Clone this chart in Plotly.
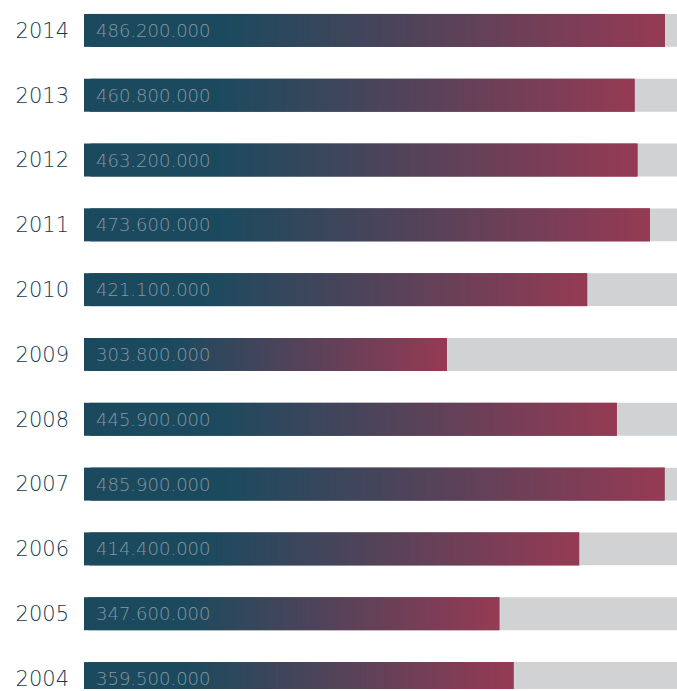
import plotly.graph_objects as go

years = ["2014", "2013", "2012", "2011", "2010", "2009", "2008", "2007", "2006", "2005", "2004"]
values = [486200000, 460800000, 463200000, 473600000, 421100000, 303800000,
          445900000, 485900000, 414400000, 347600000, 359500000]
scale_max = 500000000

TEAL = (27, 74, 94)
CRIMSON = (150, 58, 84)
GREY = "#d1d2d4"
N_SEG = 90
T0 = 0.24

PX_PER_ROW = 65.0
BAR_PX = 33.0
BAR_W = BAR_PX / PX_PER_ROW
Y_TOP = -30.5 / PX_PER_ROW
Y_BOTTOM = Y_TOP + 691 / PX_PER_ROW


def grad_color(t):
    if t <= T0:
        c = TEAL
    else:
        f = (t - T0) / (1 - T0)
        c = tuple(TEAL[k] + (CRIMSON[k] - TEAL[k]) * f for k in range(3))
    return "rgb(%d,%d,%d)" % tuple(round(x) for x in c)


fig = go.Figure()

# background full-scale bars
fig.add_trace(go.Bar(
    y=years, x=[scale_max] * len(years), orientation="h",
    marker=dict(color=GREY, line=dict(width=0)), width=BAR_W,
    hoverinfo="skip", showlegend=False,
))

# gradient bars built from slightly overlapping segments
seg_y, seg_x, seg_base, seg_col = [], [], [], []
for yr, v in zip(years, values):
    for i in range(N_SEG):
        start = v * i / N_SEG
        end = min(v * (i + 2) / N_SEG, v)
        seg_y.append(yr)
        seg_base.append(start)
        seg_x.append(end - start)
        seg_col.append(grad_color((i + 0.5) / N_SEG))

fig.add_trace(go.Bar(
    y=seg_y, x=seg_x, base=seg_base, orientation="h",
    marker=dict(color=seg_col, line=dict(width=0)), width=BAR_W,
    hoverinfo="skip", showlegend=False,
))

for idx, v in enumerate(values):
    fig.add_annotation(
        x=0, y=idx, xref="x", yref="y", xanchor="left", yanchor="middle",
        xshift=10, showarrow=False,
        text=f"{v:,}".replace(",", "."),
        font=dict(family="DejaVu Sans", size=18, color="#8797a3", weight=200),
    )

fig.update_layout(
    width=677, height=691,
    margin=dict(l=84, r=0, t=0, b=0),
    barmode="overlay",
    plot_bgcolor="white", paper_bgcolor="white",
    xaxis=dict(range=[0, 496300000], visible=False, fixedrange=True),
    yaxis=dict(
        type="category", categoryorder="array", categoryarray=years,
        range=[Y_BOTTOM, Y_TOP], showgrid=False, zeroline=False, showline=False,
        ticks="", ticklabelstandoff=14, fixedrange=True,
        tickfont=dict(family="DejaVu Sans", size=21, color="#133a52", weight=200),
    ),
)

fig.write_html(
    "out.html",
    config={"displayModeBar": False},
    post_script="document.body.style.margin='0';document.body.style.overflow='hidden';",
)
